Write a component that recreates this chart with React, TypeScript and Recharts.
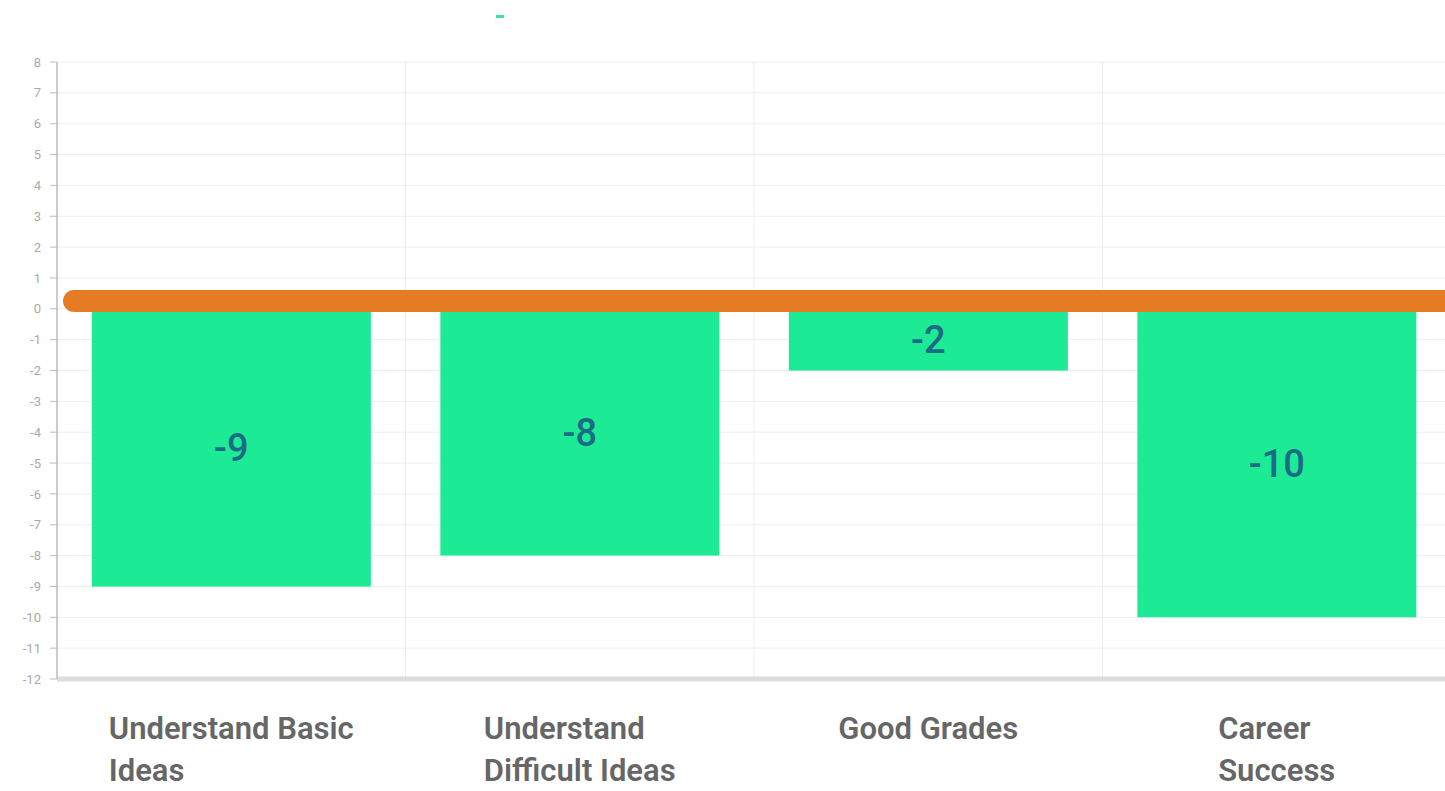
import React from 'react';
import { BarChart, Bar, XAxis, YAxis, CartesianGrid, ReferenceLine, LabelList, Legend } from 'recharts';

const categories = ['Understand Basic Ideas', 'Understand Difficult Ideas', 'Good Grades', 'Career Success'];
const labelLines: string[][] = [['Understand Basic', 'Ideas'], ['Understand', 'Difficult Ideas'], ['Good Grades'], ['Career', 'Success']];
const values = [-9, -8, -2, -10];
const yTicks = [8, 7, 6, 5, 4, 3, 2, 1, 0, -1, -2, -3, -4, -5, -6, -7, -8, -9, -10, -11, -12];
const zeroLineValue = 0.25;

const data = categories.map((name, i) => ({ name, value: values[i], lines: labelLines[i] }));

const X_FONT = '600 31px Roboto';
let ctx: CanvasRenderingContext2D | null = null;
function measure(t: string): number {
  if (!ctx) {
    const c = document.createElement('canvas');
    ctx = c.getContext('2d');
  }
  if (!ctx) return t.length * 15;
  ctx.font = X_FONT;
  return ctx.measureText(t).width;
}

const XTick = (props: any) => {
  const { x, payload } = props;
  const idx = categories.indexOf(payload.value);
  const lines = idx >= 0 ? labelLines[idx] : [String(payload.value)];
  const w = Math.max(...lines.map(measure));
  const startX = x - w / 2;
  return (
    <g>
      {lines.map((ln, i) => (
        <text
          key={i}
          x={startX}
          y={728 + i * 42}
          textAnchor="start"
          dominantBaseline="central"
          fill="#666666"
          style={{ font: X_FONT }}
        >
          {ln}
        </text>
      ))}
    </g>
  );
};

const OrangeLine = (props: any) => {
  const { x1, y1, x2, y2 } = props;
  return (
    <line x1={x1 + 17} y1={y1} x2={x2} y2={y2} stroke="#e57b22" strokeWidth={22} strokeLinecap="round" />
  );
};

export default function App() {
  return (
    <div style={{ position: 'absolute', left: 0, top: 0, width: 1445, height: 791, overflow: 'hidden', background: '#fff' }}>
      <BarChart
        width={1452}
        height={791}
        data={data}
        margin={{ top: 59, right: 1, left: 0, bottom: 0 }}
        barCategoryGap="10%"
      >
        <Legend
          verticalAlign="top"
          wrapperStyle={{ top: 15, left: 0 }}
          content={() => <div style={{ marginLeft: 496, width: 8, height: 3, background: '#3fe0a0' }} />}
        />
        <CartesianGrid
          stroke="#eeeeee"
          verticalCoordinatesGenerator={({ offset }: any) => [1, 2, 3].map((i) => offset.left + (i * offset.width) / 4)}
        />
        <XAxis
          dataKey="name"
          axisLine={{ stroke: '#dddddd', strokeWidth: 5 }}
          tickLine={false}
          height={112}
          interval={0}
          tick={<XTick />}
        />
        <YAxis
          type="number"
          domain={[-12, 8]}
          ticks={yTicks}
          interval={0}
          width={57}
          tickSize={7}
          tickMargin={9}
          axisLine={{ stroke: '#bbbbbb', strokeWidth: 1.5 }}
          tickLine={{ stroke: '#bbbbbb' }}
          tick={{ fill: '#aaaaaa', fontSize: 13, fontFamily: 'Roboto' }}
        />
        <Bar dataKey="value" fill="#1cea95" isAnimationActive={false}>
          <LabelList
            dataKey="value"
            position="center"
            fill="#1b6a86"
            style={{ fontSize: 38, fontFamily: 'Roboto', fontWeight: 500 }}
          />
        </Bar>
        <ReferenceLine y={zeroLineValue} stroke="#e57b22" strokeWidth={22} shape={<OrangeLine />} />
      </BarChart>
    </div>
  );
}
